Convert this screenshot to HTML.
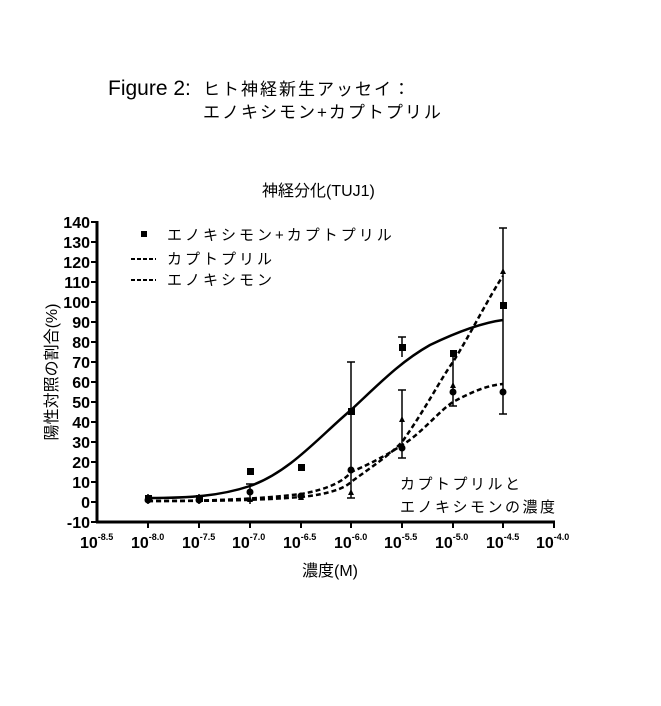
<!DOCTYPE html>
<html><head><meta charset="utf-8"><style>
body{margin:0;background:#fff;}
svg text{font-family:"Liberation Sans","Noto Sans CJK JP",sans-serif;fill:#000;}
</style></head><body>
<svg width="661" height="701" viewBox="0 0 661 701" xmlns="http://www.w3.org/2000/svg">
<text x="108" y="95" font-size="21">Figure 2:</text>
<text x="203" y="95" font-size="17" letter-spacing="2">ヒト神経新生アッセイ：</text>
<text x="203" y="118" font-size="17" letter-spacing="2">エノキシモン+カプトプリル</text>
<text x="262" y="196" font-size="16">神経分化(TUJ1)</text>
<text transform="translate(57,372) rotate(-90)" font-size="16" text-anchor="middle">陽性対照の割合(%)</text>
<text x="330" y="576" font-size="16" text-anchor="middle">濃度(M)</text>
<g stroke="#000" stroke-width="3" fill="none">
<line x1="97" y1="221" x2="97" y2="523"/>
<line x1="96" y1="522" x2="555" y2="522"/>
</g>
<g stroke="#000" stroke-width="2">
<line x1="91" y1="222" x2="97" y2="222"/><line x1="91" y1="242" x2="97" y2="242"/><line x1="91" y1="262" x2="97" y2="262"/><line x1="91" y1="282" x2="97" y2="282"/><line x1="91" y1="302" x2="97" y2="302"/><line x1="91" y1="322" x2="97" y2="322"/><line x1="91" y1="342" x2="97" y2="342"/><line x1="91" y1="362" x2="97" y2="362"/><line x1="91" y1="382" x2="97" y2="382"/><line x1="91" y1="402" x2="97" y2="402"/><line x1="91" y1="422" x2="97" y2="422"/><line x1="91" y1="442" x2="97" y2="442"/><line x1="91" y1="462" x2="97" y2="462"/><line x1="91" y1="482" x2="97" y2="482"/><line x1="91" y1="502" x2="97" y2="502"/><line x1="91" y1="522" x2="97" y2="522"/>
<line x1="148" y1="522" x2="148" y2="528"/><line x1="199" y1="522" x2="199" y2="528"/><line x1="250" y1="522" x2="250" y2="528"/><line x1="301" y1="522" x2="301" y2="528"/><line x1="351" y1="522" x2="351" y2="528"/><line x1="402" y1="522" x2="402" y2="528"/><line x1="453" y1="522" x2="453" y2="528"/><line x1="503" y1="522" x2="503" y2="528"/><line x1="554" y1="522" x2="554" y2="528"/>
</g>
<g font-size="16" font-weight="bold" text-anchor="end">
<text x="90" y="228">140</text><text x="90" y="248">130</text><text x="90" y="268">120</text><text x="90" y="288">110</text><text x="90" y="308">100</text><text x="90" y="328">90</text><text x="90" y="348">80</text><text x="90" y="368">70</text><text x="90" y="388">60</text><text x="90" y="408">50</text><text x="90" y="428">40</text><text x="90" y="448">30</text><text x="90" y="468">20</text><text x="90" y="488">10</text><text x="90" y="508">0</text><text x="90" y="528">-10</text>
</g>
<g font-size="16" font-weight="bold">
<text x="80" y="548">10<tspan font-size="9" dy="-8">-8.5</tspan></text>
<text x="131" y="548">10<tspan font-size="9" dy="-8">-8.0</tspan></text>
<text x="182" y="548">10<tspan font-size="9" dy="-8">-7.5</tspan></text>
<text x="232" y="548">10<tspan font-size="9" dy="-8">-7.0</tspan></text>
<text x="283" y="548">10<tspan font-size="9" dy="-8">-6.5</tspan></text>
<text x="334" y="548">10<tspan font-size="9" dy="-8">-6.0</tspan></text>
<text x="384" y="548">10<tspan font-size="9" dy="-8">-5.5</tspan></text>
<text x="435" y="548">10<tspan font-size="9" dy="-8">-5.0</tspan></text>
<text x="486" y="548">10<tspan font-size="9" dy="-8">-4.5</tspan></text>
<text x="536" y="548">10<tspan font-size="9" dy="-8">-4.0</tspan></text>
</g>
<!-- legend -->
<rect x="141" y="231" width="6" height="6" fill="#000"/>
<text x="167" y="240" font-size="15" letter-spacing="3">エノキシモン+カプトプリル</text>
<line x1="131" y1="259" x2="156" y2="259" stroke="#000" stroke-width="2" stroke-dasharray="4,2"/>
<text x="167" y="264" font-size="15" letter-spacing="3">カプトプリル</text>
<line x1="131" y1="280" x2="156" y2="280" stroke="#000" stroke-width="2" stroke-dasharray="4,2"/>
<text x="167" y="285" font-size="15" letter-spacing="3">エノキシモン</text>
<text x="400" y="489" font-size="15" letter-spacing="2.5">カプトプリルと</text>
<text x="400" y="512" font-size="15" letter-spacing="2.5">エノキシモンの濃度</text>
<!-- error bars -->
<g stroke="#000" stroke-width="1.5">
<line x1="351" y1="362" x2="351" y2="498"/><line x1="347" y1="362" x2="355" y2="362"/><line x1="347" y1="498" x2="355" y2="498"/>
<line x1="402" y1="337" x2="402" y2="357"/><line x1="398" y1="337" x2="406" y2="337"/>
<line x1="402" y1="390" x2="402" y2="458"/><line x1="398" y1="390" x2="406" y2="390"/><line x1="398" y1="458" x2="406" y2="458"/>
<line x1="453" y1="352" x2="453" y2="406"/><line x1="449" y1="406" x2="457" y2="406"/>
<line x1="503" y1="228" x2="503" y2="414"/><line x1="499" y1="228" x2="507" y2="228"/><line x1="499" y1="414" x2="507" y2="414"/>
<line x1="250" y1="484" x2="250" y2="504"/><line x1="246" y1="484" x2="254" y2="484"/>
<line x1="148" y1="494" x2="148" y2="504"/><line x1="199" y1="494" x2="199" y2="504"/>
</g>
<!-- curves -->
<path d="M148,498 C190,498 220,496 250,486 C290,472 320,436 351,410 C380,383 400,362 430,345 C455,333 480,323 503,320" stroke="#000" stroke-width="2.5" fill="none"/>
<path d="M148,501 C200,501 250,500 301,494 C330,489 345,480 351,472 C375,462 395,450 402,445 C420,435 440,410 453,402 C475,390 490,385 503,384" stroke="#000" stroke-width="2.5" fill="none" stroke-dasharray="5,3"/>
<path d="M148,501 C200,501 250,501 301,497 C330,494 345,488 351,482 C370,468 390,455 402,442 C425,410 440,380 453,362 C470,335 490,295 503,276" stroke="#000" stroke-width="2.5" fill="none" stroke-dasharray="5,3"/>
<g fill="#000">
<rect x="145" y="495" width="7" height="7"/><rect x="196" y="495" width="7" height="7"/><rect x="247" y="468" width="7" height="7"/><rect x="298" y="464" width="7" height="7"/><rect x="348" y="408" width="7" height="7"/><rect x="399" y="344" width="7" height="7"/><rect x="450" y="350" width="7" height="7"/><rect x="500" y="302" width="7" height="7"/>
<circle cx="148" cy="500" r="3.5"/><circle cx="199" cy="500" r="3.5"/><circle cx="250" cy="492" r="3.5"/><circle cx="301" cy="496" r="3.5"/><circle cx="351" cy="470" r="3.5"/><circle cx="402" cy="448" r="3.5"/><circle cx="453" cy="392" r="3.5"/><circle cx="503" cy="392" r="3.5"/>
<path d="M351,489 l-3,6 h6z M402,416 l-3,6 h6z M453,382 l-3,6 h6z M503,268 l-3,6 h6z M250,496 l-3,6 h6z M301,494 l-3,6 h6z"/>
</g>
</svg>
</body></html>
